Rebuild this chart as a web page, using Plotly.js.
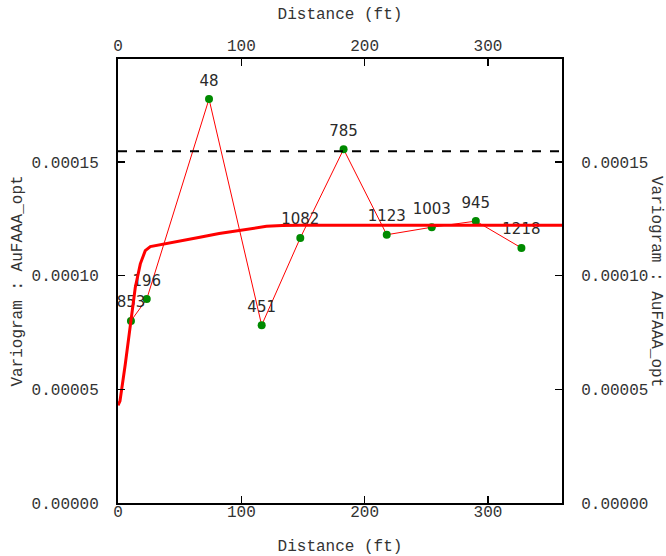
<!DOCTYPE html>
<html>
<head>
<meta charset="utf-8">
<script src="https://cdn.plot.ly/plotly-3.0.1.min.js"></script>
<style>html,body{margin:0;padding:0;background:#fff}</style>
</head>
<body>
<div id="chart" style="width:666px;height:556px"></div>
<script>
// Experimental variogram points (distance ft, variogram value, number of pairs)
var expDist  = [10.5, 23.3, 73.8, 116.5, 147.8, 182.9, 217.9, 254.4, 290.1, 327.1];
var expGamma = [0.0000801, 0.0000897, 0.0001777, 0.0000782, 0.0001166, 0.0001556, 0.0001180, 0.0001213, 0.0001240, 0.0001122];
var expPairs = ["853", "196", "48", "451", "1082", "785", "1123", "1003", "945", "1218"];

// Fitted model curve
var modelDist  = [0, 1.6, 5.9, 10.0, 14.0, 18.1, 22.1, 26.2, 35.6, 51.8, 66.4, 82.0, 98.8, 110.0, 120.4, 133.0, 147.4, 200, 260, 320, 360];
var modelGamma = [0.0000430, 0.0000448, 0.0000610, 0.0000787, 0.0000948, 0.0001052, 0.0001110, 0.0001128, 0.0001137, 0.0001154, 0.0001169, 0.0001185, 0.0001199, 0.0001210, 0.0001217, 0.0001221, 0.0001222, 0.0001222, 0.0001222, 0.0001222, 0.0001222];

// Sill (dashed)
var sillDist  = [0, 360];
var sillGamma = [0.0001547, 0.0001547];

var xRange = [0, 360];
var yRange = [0, 0.0001953];
var xTicks = [0, 100, 200, 300];
var yTicks = [0, 0.00005, 0.0001, 0.00015];
var yTickText = ["0.00000", "0.00005", "0.00010", "0.00015"];
var xTitle = "Distance (ft)";
var yTitle = "Variogram : AuFAAA_opt";

var mono = "Liberation Mono, Courier New, monospace";
var txtCol = "#333";

var traces = [
  {
    x: expDist, y: expGamma,
    type: "scatter", mode: "lines+markers",
    line: {color: "#ff0000", width: 1},
    marker: {color: "#008a00", size: 8},
    hoverinfo: "skip"
  },
  {
    x: expDist, y: expGamma, text: expPairs,
    type: "scatter", mode: "markers+text",
    marker: {color: "rgba(0,0,0,0)", size: 14},
    textposition: "top center",
    textfont: {family: "DejaVu Sans, sans-serif", size: 15, color: "#2a2a2a"},
    cliponaxis: true,
    hoverinfo: "skip"
  },
  {
    x: modelDist, y: modelGamma,
    xaxis: "x3", yaxis: "y",
    type: "scatter", mode: "lines",
    line: {color: "#ff0000", width: 3},
    hoverinfo: "skip"
  },
  {
    x: sillDist, y: sillGamma,
    xaxis: "x2", yaxis: "y2",
    type: "scatter", mode: "lines",
    line: {color: "#000000", width: 2, dash: "dash"},
    hoverinfo: "skip"
  }
];

var axCommon = {
  showgrid: false, zeroline: false,
  showline: true, linecolor: "#000", linewidth: 2,
  ticks: "inside", ticklen: 7, tickwidth: 1.5, tickcolor: "#000",
  tickfont: {family: mono, size: 16, color: txtCol}
};

var layout = {
  width: 666, height: 556,
  margin: {l: 118, r: 104, t: 59, b: 53, pad: 0},
  paper_bgcolor: "#fff", plot_bgcolor: "#fff",
  showlegend: false,
  xaxis: Object.assign({}, axCommon, {
    range: xRange, tickvals: xTicks, mirror: true,
    showticklabels: false
  }),
  xaxis3: {
    range: xRange, tickvals: xTicks, overlaying: "x", side: "bottom",
    anchor: "free", position: 0.006,
    showgrid: false, zeroline: false, showline: false, ticks: "",
    tickfont: {family: mono, size: 16, color: txtCol},
    title: {text: xTitle, font: {family: mono, size: 16, color: txtCol}, standoff: 40}
  },
  xaxis2: Object.assign({}, axCommon, {
    range: xRange, tickvals: xTicks, overlaying: "x", side: "top", anchor: "y2",
    ticklabelstandoff: 0,
    title: {text: xTitle, font: {family: mono, size: 16, color: txtCol}, standoff: 14}
  }),
  yaxis: Object.assign({}, axCommon, {
    range: yRange, tickvals: yTicks, ticktext: yTickText, mirror: true,
    ticklabelstandoff: 14,
    title: {text: yTitle, font: {family: mono, size: 16, color: txtCol}, standoff: 5}
  }),
  yaxis2: Object.assign({}, axCommon, {
    range: yRange, tickvals: yTicks, ticktext: yTickText, overlaying: "y", side: "right", anchor: "x2",
    ticklabelstandoff: 14
  }),
  annotations: [{
    text: yTitle, xref: "paper", yref: "paper", x: 1, y: 0.5,
    xanchor: "center", yanchor: "middle", xshift: 94, textangle: 90,
    showarrow: false, font: {family: mono, size: 16, color: txtCol}
  }]
};

Plotly.newPlot("chart", traces, layout, {displayModeBar: false, staticPlot: true});
</script>
</body>
</html>
